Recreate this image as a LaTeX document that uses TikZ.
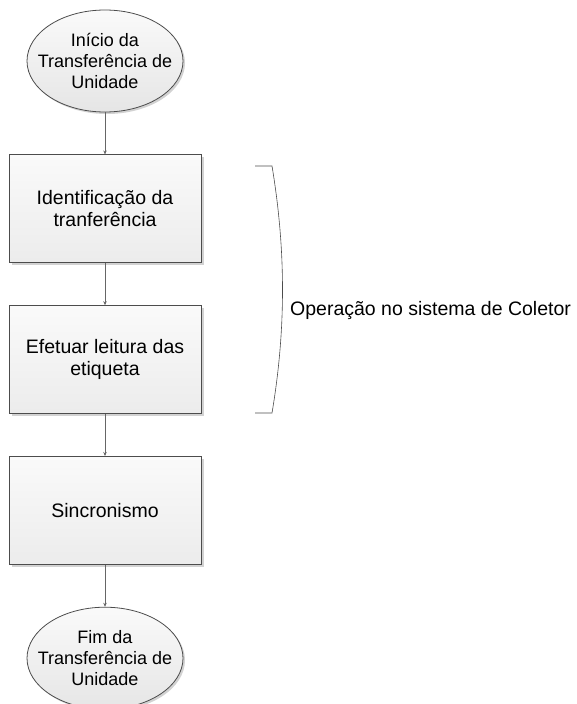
\documentclass[tikz,border=0pt]{standalone}
\usepackage{fontspec}
\setmainfont{Liberation Sans}
\usetikzlibrary{positioning,shadows,arrows.meta,shapes.geometric}

\begin{document}
\begin{tikzpicture}[x=1pt,y=-1pt,
		node distance=42pt,
		every node/.style={font=\fontsize{19.5}{22}\selectfont,align=center,inner sep=0pt},
		terminal/.style={ellipse,draw=black!70,thick,top color=gray!4,bottom color=gray!20,
			font=\fontsize{18}{21}\selectfont,inner xsep=-13pt,inner ysep=0pt,
			minimum width=156pt,minimum height=102pt,
			drop shadow={shadow xshift=2pt,shadow yshift=-2pt,fill=gray!35,opacity=1}},
		etapa/.style={rectangle,draw=black!70,thick,top color=gray!4,bottom color=gray!15,
			minimum width=192pt,minimum height=108pt,
			drop shadow={shadow xshift=2.5pt,shadow yshift=-2.5pt,fill=gray!35,opacity=1}},
		seta/.style={draw=black!60,semithick,-{Stealth[length=4pt,width=3.5pt]}}]
		\useasboundingbox (0,0) rectangle (577,704);
		\node[terminal](inicio) at (105,61){In\'icio da\\Transfer\^encia de\\Unidade};
		\node[etapa,below=of inicio](ident){Identifica\c{c}\~ao da\\tranfer\^encia};
		\node[etapa,below=of ident](leitura){Efetuar leitura das\\etiqueta};
		\node[etapa,below=of leitura](sinc){Sincronismo};
		\node[terminal,below=of sinc](fim){Fim da\\Transfer\^encia de\\Unidade};
		\draw[seta] (inicio) -- (ident);
		\draw[seta] (ident) -- (leitura);
		\draw[seta] (leitura) -- (sinc);
		\draw[seta] (sinc) -- (fim);
		% chave do coletor
		\draw[black!70,semithick] (255,166) -- (272,166)
			.. controls (286,250) and (286,330) .. (272,413) -- (255,413);
		\node[anchor=west](coletor) at (290,310){Opera\c{c}\~ao no sistema de Coletor};
	\end{tikzpicture}
\end{document}
